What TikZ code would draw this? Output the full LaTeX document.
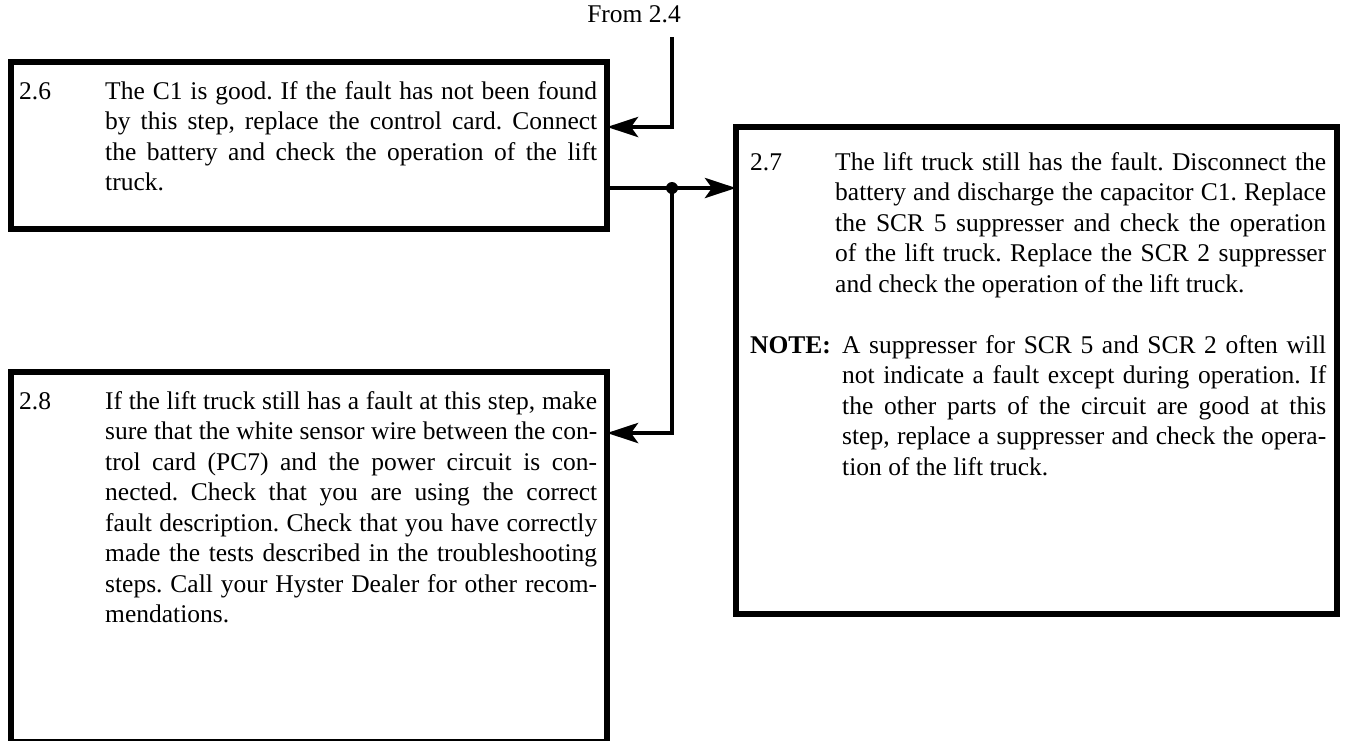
\documentclass[tikz,border=0pt]{standalone}
\usepackage{fontspec}
\setmainfont{Liberation Serif}
\usetikzlibrary{arrows.meta}
% text face of the step boxes
\newcommand\stepfont{\fontsize{25.5}{30.5}\selectfont\frenchspacing
  \spaceskip=0.25em plus 0.2em minus 0.1em\relax}
% one justified line of a fixed width, and a last line set flush left
\newcommand\jline[2]{\hbox to #1{\strut #2}}
\newcommand\lastline[2]{\hbox to #1{\strut #2\hfil}}
\begin{document}
\begin{tikzpicture}[x=1pt,y=-1pt,
  stepbox/.style={draw, line width=5.5pt, outer sep=0pt, inner sep=0pt, anchor=north west},
  conn/.style={line width=4.5pt},
  arr/.style={conn, -{Stealth[length=31pt,width=20pt,inset=7pt]}},
  txt/.style={anchor=base west, inner sep=0pt, font=\stepfont},
]
\useasboundingbox (0,0) rectangle (1346,740);

% boxes
\node[stepbox, minimum width=596pt, minimum height=167pt] (b26) at (11,62) {};
\node[stepbox, minimum width=596pt, minimum height=370pt] (b28) at (11,372) {};
\node[stepbox, minimum width=601pt, minimum height=487pt] (b27) at (736,127) {};

% step 2.6
\node[txt] (n26) at (19,99) {2.6};
\node[txt] (t26) at (105,99) {\vtop{%
  \jline{492pt}{The C1 is good. If the fault has not been found}
  \jline{492pt}{by this step, replace the control card. Connect}
  \jline{492pt}{the battery and check the operation of the lift}
  \lastline{492pt}{truck.}}};

% step 2.8
\node[txt] (n28) at (19,409) {2.8};
\node[txt] (t28) at (105,409) {\vtop{%
  \jline{492pt}{If the lift truck still has a fault at this step, make}
  \jline{492pt}{sure that the white sensor wire between the con-}
  \jline{492pt}{trol card (PC7) and the power circuit is con-}
  \jline{492pt}{nected. Check that you are using the correct}
  \jline{492pt}{fault description. Check that you have correctly}
  \jline{492pt}{made the tests described in the troubleshooting}
  \jline{492pt}{steps. Call your Hyster Dealer for other recom-}
  \lastline{492pt}{mendations.}}};

% step 2.7 and its note
\node[txt] (n27) at (750,170) {2.7};
\node[txt] (t27) at (835,170) {\vtop{%
  \jline{491pt}{The lift truck still has the fault. Disconnect the}
  \jline{491pt}{battery and discharge the capacitor C1. Replace}
  \jline{491pt}{the SCR 5 suppresser and check the operation}
  \jline{491pt}{of the lift truck. Replace the SCR 2 suppresser}
  \lastline{491pt}{and check the operation of the lift truck.}}};
\node[txt] (note) at (750,353) {\bfseries NOTE:};
\node[txt] (tnote) at (842,353) {\vtop{%
  \jline{484pt}{A suppresser for SCR 5 and SCR 2 often will}
  \jline{484pt}{not indicate a fault except during operation. If}
  \jline{484pt}{the other parts of the circuit are good at this}
  \jline{484pt}{step, replace a suppresser and check the opera-}
  \lastline{484pt}{tion of the lift truck.}}};

% incoming link
\node[txt, anchor=base] (from) at (634,22) {From 2.4};
\coordinate (src) at (672,37);
\coordinate (bend1) at (672,127);
\draw[arr] (src) -- (bend1) -- (b26.east |- bend1);

% outgoing links
\coordinate (jn) at (672,188);
\coordinate (bend2) at (672,433);
\draw[arr] (b26.east |- jn) -- (b27.west |- jn);
\draw[arr] (jn) -- (bend2) -- (b28.east |- bend2);
\fill (jn) circle (6pt);
\end{tikzpicture}
\end{document}
